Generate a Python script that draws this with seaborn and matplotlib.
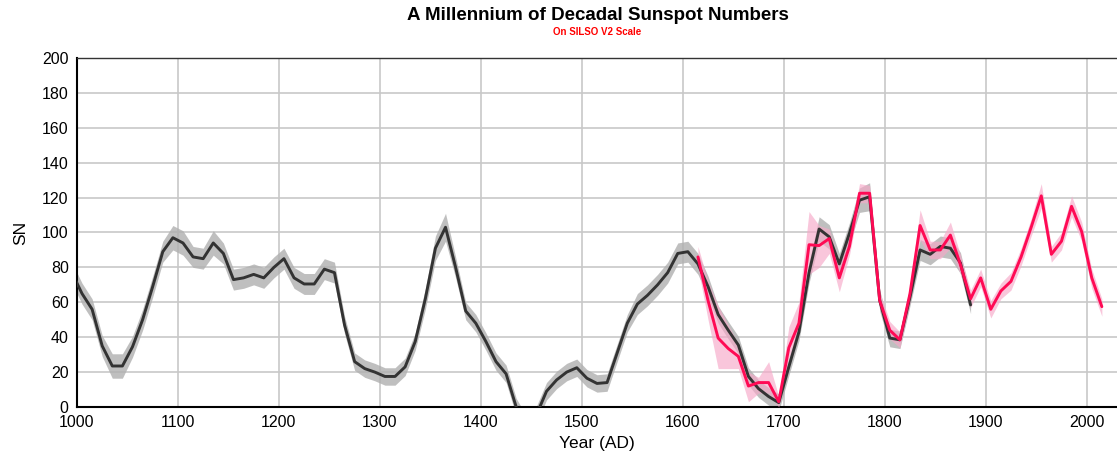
import numpy as np
import pandas as pd
import matplotlib
matplotlib.use("Agg")
import matplotlib.pyplot as plt
import seaborn as sns

# reconstructed decadal series (black, with grey uncertainty band)
recon_years = list(range(995, 1886, 10))
recon_sn = [
    77, 65, 56, 35, 23.5, 23.5, 34.5, 50, 69, 89,
    97, 94, 86, 85, 94, 88, 73, 74, 76, 74,
    80, 85, 74, 70.5, 70.5, 79, 77, 47, 26, 22,
    20, 17.5, 17.5, 23, 37.5, 62, 91, 103, 80, 55,
    48, 37.5, 26, 19, 0, -10, -4.6, 9, 15.5, 20,
    22.5, 16.5, 13.5, 14, 31, 48, 59, 64, 70, 77,
    88, 89, 82, 69, 53, 44, 35.5, 17.5, 10.5, 6,
    2.5, 23, 43, 77, 102, 97.5, 82, 99.5, 118.5, 120.5,
    61, 39.5, 38.5, 63, 90, 87.5, 92, 91, 82.5, 58.5,
]
recon_err = [
    6, 6, 6, 6, 7, 7, 6, 6, 6, 6,
    7, 7, 6, 6, 7, 6, 6, 6, 6, 6,
    6, 6, 6, 6, 6, 6, 6, 5, 5, 5,
    5, 5, 5, 5, 5, 6, 7, 8, 6, 5,
    5, 5, 5, 5, 5, 5, 5, 5, 5, 5,
    5, 5, 5, 5, 5, 5, 6, 6, 6, 6,
    6, 6, 6, 6, 5, 5, 5, 5, 5, 5,
    5, 5, 5, 6, 7, 7, 6, 6, 7, 8,
    6, 5, 5, 5, 6, 6, 6, 6, 6, 5,
]

# SILSO V2 observed decadal series (pink)
obs_years = list(range(1615, 2016, 10))
obs_sn = [
    86, 61, 39.5, 33.5, 29, 12, 14, 14, 3, 34,
    48, 93, 92.5, 96.5, 74, 92, 122.5, 122.5, 61, 44,
    38.5, 65, 104, 90, 90, 98.5, 81.5, 62, 74, 56,
    66.5, 72, 86, 103, 121, 87.5, 95, 115, 100.5, 74,
    57.5,
]
obs_low = [
    80, 50, 22, 22, 22, 3, 8, 8, 0, 28,
    42, 76, 80, 88, 66, 87, 117, 117, 56, 39,
    34, 60, 96, 85, 85, 91, 76, 57, 69, 51,
    62, 67, 81, 98, 114, 83, 90, 109, 95, 68,
    52,
]
obs_high = [
    92, 72, 58, 47, 36, 20, 17, 26, 6, 46,
    60, 112, 104, 102, 82, 97, 128, 127, 66, 49,
    43, 70, 113, 95, 95, 106, 87, 67, 79, 61,
    71, 77, 91, 108, 128, 92, 100, 121, 106, 79,
    62,
]

recon = pd.DataFrame({"year": recon_years, "sn": recon_sn, "err": recon_err})
obs = pd.DataFrame({"year": obs_years, "sn": obs_sn, "low": obs_low, "high": obs_high})

sns.set_theme(style="whitegrid")
plt.rcParams["font.family"] = ["Liberation Sans", "DejaVu Sans"]
plt.rcParams["text.color"] = "black"
plt.rcParams["axes.labelcolor"] = "black"

fig = plt.figure(figsize=(11.17, 4.57), dpi=100)
ax = fig.add_axes([0.0689, 0.1094, 0.9311, 0.7637])

ax.fill_between(recon["year"], recon["sn"] - recon["err"], recon["sn"] + recon["err"],
                color="#b0b0b0", alpha=0.8, lw=0, zorder=2)
ax.fill_between(obs["year"], obs["low"], obs["high"],
                color="#f6a8c8", alpha=0.65, lw=0, zorder=3)
sns.lineplot(data=recon, x="year", y="sn", color="#333333", lw=2.1, ax=ax, zorder=4)
sns.lineplot(data=obs, x="year", y="sn", color="#ff0a54", lw=2.1, ax=ax, zorder=5)

ax.set_xlim(1000, 2030)
ax.set_ylim(0, 200)
ax.set_xticks(range(1000, 2001, 100))
ax.set_yticks(range(0, 201, 20))
ax.grid(True, color="#c8c8c8", lw=1.2)
ax.tick_params(length=0, labelsize=11.5, colors="black", pad=6)
ax.set_facecolor("white")

for side in ["left", "bottom"]:
    ax.spines[side].set_color("black")
    ax.spines[side].set_linewidth(1.5)
ax.spines["top"].set_color("#333333")
ax.spines["top"].set_linewidth(1.0)
ax.spines["right"].set_visible(False)

ax.set_xlabel("Year (AD)", fontsize=12.5, labelpad=4)
ax.set_ylabel("SN", fontsize=12.5, labelpad=10)

fig.text(0.535, 0.965, "A Millennium of Decadal Sunspot Numbers",
         ha="center", va="center", fontsize=13.5, fontweight="bold", color="black")
fig.text(0.535, 0.93, "On SILSO V2 Scale", ha="center", va="center",
         fontsize=7, fontweight="bold", color="#ff0000")

fig.savefig("out.png", dpi=100, facecolor="white")
